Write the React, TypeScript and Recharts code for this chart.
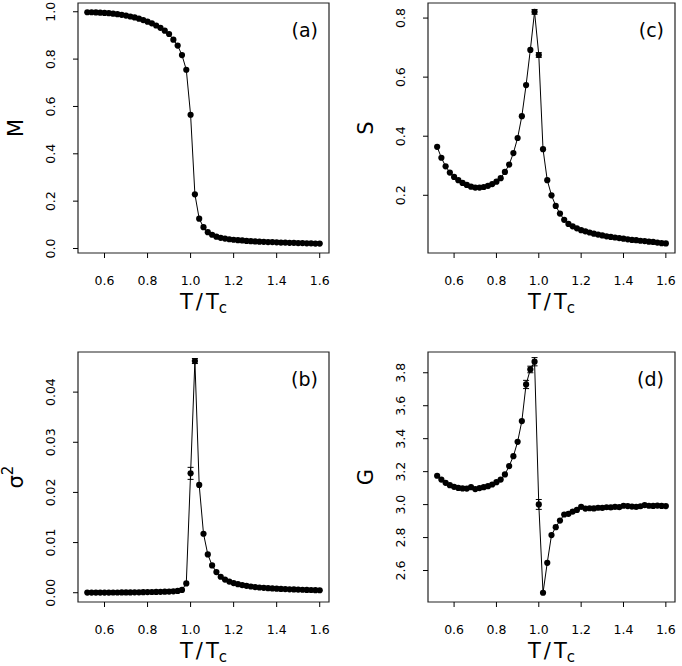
import { LineChart, Line, XAxis, YAxis, ErrorBar, ReferenceArea } from 'recharts'

const FONT = '"DejaVu Sans", sans-serif'

// temperature grid, T / Tc
const T_VALUES = [
  0.52, 0.54, 0.56, 0.58, 0.6, 0.62, 0.64, 0.66, 0.68, 0.7,
  0.72, 0.74, 0.76, 0.78, 0.8, 0.82, 0.84, 0.86, 0.88, 0.9,
  0.92, 0.94, 0.96, 0.98, 1.0, 1.02, 1.04, 1.06, 1.08, 1.1,
  1.12, 1.14, 1.16, 1.18, 1.2, 1.22, 1.24, 1.26, 1.28, 1.3,
  1.32, 1.34, 1.36, 1.38, 1.4, 1.42, 1.44, 1.46, 1.48, 1.5,
  1.52, 1.54, 1.56, 1.58, 1.6,
]

const M_VALUES = [
  0.998, 0.998, 0.997, 0.996, 0.995, 0.994, 0.992, 0.99, 0.987, 0.984,
  0.98, 0.976, 0.971, 0.965, 0.958, 0.951, 0.942, 0.932, 0.92, 0.906,
  0.882, 0.857, 0.817, 0.755, 0.565, 0.229, 0.126, 0.09, 0.069, 0.058,
  0.05, 0.045, 0.042, 0.039, 0.037, 0.035, 0.034, 0.032, 0.031, 0.03,
  0.029, 0.028, 0.027, 0.027, 0.026, 0.025, 0.025, 0.024, 0.024, 0.023,
  0.023, 0.022, 0.022, 0.021, 0.021,
]

const SIGMA2_VALUES = [
  0.00002, 0.00002, 0.00002, 0.00003, 0.00003, 0.00003, 0.00004, 0.00004, 0.00005, 0.00005,
  0.00006, 0.00007, 0.00008, 0.0001, 0.00012, 0.00014, 0.00016, 0.00018, 0.0002, 0.00022,
  0.00028, 0.00036, 0.00055, 0.00186, 0.0238, 0.0462, 0.0215, 0.01176, 0.00764, 0.00545,
  0.00412, 0.00318, 0.00262, 0.00222, 0.00192, 0.0017, 0.00152, 0.00138, 0.00124, 0.00112,
  0.00104, 0.00097, 0.00091, 0.00085, 0.0008, 0.00076, 0.00072, 0.00068, 0.00065, 0.00062,
  0.00059, 0.00056, 0.00054, 0.00051, 0.00049,
]

const S_VALUES = [
  0.364, 0.327, 0.298, 0.277, 0.262, 0.251, 0.242, 0.235, 0.229, 0.226,
  0.226, 0.228, 0.232, 0.238, 0.246, 0.258, 0.279, 0.304, 0.343, 0.394,
  0.468, 0.573, 0.692, 0.821, 0.675, 0.356, 0.251, 0.2, 0.164, 0.138,
  0.117, 0.103, 0.095, 0.088, 0.082, 0.078, 0.074, 0.07, 0.067, 0.064,
  0.061, 0.059, 0.057, 0.055, 0.053, 0.051, 0.049, 0.048, 0.046, 0.045,
  0.043, 0.042, 0.04, 0.038, 0.037,
]

const G_VALUES = [
  3.175, 3.152, 3.132, 3.118, 3.108, 3.101, 3.098, 3.097, 3.106, 3.094,
  3.1, 3.106, 3.112, 3.122, 3.136, 3.152, 3.183, 3.234, 3.294, 3.381,
  3.507, 3.729, 3.82, 3.867, 3.001, 2.465, 2.647, 2.815, 2.863, 2.903,
  2.94, 2.944, 2.958, 2.968, 2.986, 2.976, 2.978, 2.977, 2.981, 2.98,
  2.984, 2.983, 2.986, 2.985, 2.993, 2.991, 2.988, 2.986, 2.99, 2.997,
  2.993, 2.992, 2.994, 2.992, 2.991,
]

// error bars: [T/Tc, half width]
const SIGMA2_ERRORS = [[1.0, 0.0012], [1.02, 0.0005]]
const S_ERRORS = [[0.98, 0.008], [1.0, 0.008]]
const G_ERRORS = [[0.94, 0.025], [0.96, 0.02], [0.98, 0.025], [1.0, 0.03]]

const X_DOMAIN: [number, number] = [0.4768, 1.6432]
const X_TICKS = [0.6, 0.8, 1.0, 1.2, 1.4, 1.6]

function buildRows(values: number[], errors: number[][] = []) {
  return T_VALUES.map((t, i) => {
    const e = errors.find(([et]) => Math.abs(et - t) < 1e-6)
    return { t, v: values[i], err: e ? e[1] : undefined }
  })
}

function XTick({ x, y, payload }: any) {
  return (
    <text x={x} y={y + 25} textAnchor="middle" fontSize={12.5} fontFamily={FONT} fill="#000">
      {Number(payload.value).toFixed(1)}
    </text>
  )
}

function makeYTick(digits: number) {
  return ({ x, y, payload }: any) => {
    const bx = x - 16
    return (
      <text
        x={bx}
        y={y}
        transform={`rotate(-90 ${bx} ${y})`}
        textAnchor="middle"
        fontSize={12.5}
        fontFamily={FONT}
        fill="#000"
      >
        {Number(payload.value).toFixed(digits)}
      </text>
    )
  }
}

function XTitle({ viewBox }: any) {
  const cx = viewBox.x + viewBox.width / 2
  const by = viewBox.y + 56
  return (
    <text x={cx} y={by} textAnchor="middle" fontSize={21} fontFamily={FONT} fill="#000">
      T<tspan dx={3}>/</tspan>
      <tspan dx={3}>T</tspan>
      <tspan fontSize={15} dy={4}>c</tspan>
    </text>
  )
}

function makeYTitle(title: string, sup?: string) {
  return ({ viewBox }: any) => {
    const bx = viewBox.x + viewBox.width - 55
    const cy = viewBox.y + viewBox.height / 2
    return (
      <text
        x={bx}
        y={cy}
        transform={`rotate(-90 ${bx} ${cy})`}
        textAnchor="middle"
        fontSize={21}
        fontFamily={FONT}
        fill="#000"
      >
        {title}
        {sup && (
          <tspan fontSize={15} dy={-10}>
            {sup}
          </tspan>
        )}
      </text>
    )
  }
}

function makeTag(tag: string) {
  return ({ viewBox }: any) => (
    <text
      x={viewBox.x + viewBox.width - 11}
      y={viewBox.y + 34}
      textAnchor="end"
      fontSize={19}
      fontFamily={FONT}
      fill="#000"
    >
      {tag}
    </text>
  )
}

type PanelProps = {
  rows: ReturnType<typeof buildRows>
  yDomain: [number, number]
  yTicks: number[]
  digits: number
  tag: string
  title: string
  sup?: string
  left: number
  top: number
  margin: { top: number; right: number; bottom: number; left: number }
}

function Panel({ rows, yDomain, yTicks, digits, tag, title, sup, left, top, margin }: PanelProps) {
  return (
    <div style={{ position: 'absolute', left, top }}>
      <LineChart width={341} height={333} data={rows} margin={margin}>
        <XAxis
          type="number"
          dataKey="t"
          domain={X_DOMAIN}
          ticks={X_TICKS}
          allowDataOverflow
          height={50}
          axisLine={false}
          tickSize={5}
          tickLine={{ stroke: '#000' }}
          tick={XTick}
          label={{ content: XTitle }}
        />
        <YAxis
          type="number"
          domain={yDomain}
          ticks={yTicks}
          allowDataOverflow
          width={40}
          axisLine={false}
          tickSize={5}
          tickLine={{ stroke: '#000' }}
          tick={makeYTick(digits)}
          label={{ content: makeYTitle(title, sup) }}
        />
        <ReferenceArea
          x1={X_DOMAIN[0]}
          x2={X_DOMAIN[1]}
          y1={yDomain[0]}
          y2={yDomain[1]}
          fill="none"
          stroke="#222"
          strokeWidth={1.2}
          label={{ content: makeTag(tag) }}
        />
        <Line
          dataKey="v"
          stroke="#000"
          strokeWidth={1}
          dot={{ r: 3.1, fill: '#000', stroke: 'none' }}
          activeDot={false}
          isAnimationActive={false}
        >
          <ErrorBar dataKey="err" direction="y" width={3} stroke="#000" strokeWidth={1} />
        </Line>
      </LineChart>
    </div>
  )
}

export default function App() {
  return (
    <div
      style={{
        position: 'absolute',
        left: 0,
        top: 0,
        width: 682,
        height: 666,
        background: '#fff',
      }}
    >
      <Panel
        rows={buildRows(M_VALUES)}
        yDomain={[-0.019, 1.037]}
        yTicks={[0, 0.2, 0.4, 0.6, 0.8, 1.0]}
        digits={1}
        tag="(a)"
        title="M"
        left={0}
        top={0}
        margin={{ top: 3, right: 12, bottom: 30, left: 38 }}
      />
      <Panel
        rows={buildRows(SIGMA2_VALUES, SIGMA2_ERRORS)}
        yDomain={[-0.00185, 0.0480]}
        yTicks={[0, 0.01, 0.02, 0.03, 0.04]}
        digits={2}
        tag="(b)"
        title="σ"
        sup="2"
        left={0}
        top={333}
        margin={{ top: 19, right: 12, bottom: 14, left: 38 }}
      />
      <Panel
        rows={buildRows(S_VALUES, S_ERRORS)}
        yDomain={[0.0046, 0.851]}
        yTicks={[0.2, 0.4, 0.6, 0.8]}
        digits={1}
        tag="(c)"
        title="S"
        left={341}
        top={0}
        margin={{ top: 3, right: 7, bottom: 30, left: 47 }}
      />
      <Panel
        rows={buildRows(G_VALUES, G_ERRORS)}
        yDomain={[2.409, 3.926]}
        yTicks={[2.6, 2.8, 3.0, 3.2, 3.4, 3.6, 3.8]}
        digits={1}
        tag="(d)"
        title="G"
        left={341}
        top={333}
        margin={{ top: 19, right: 7, bottom: 14, left: 47 }}
      />
    </div>
  )
}
